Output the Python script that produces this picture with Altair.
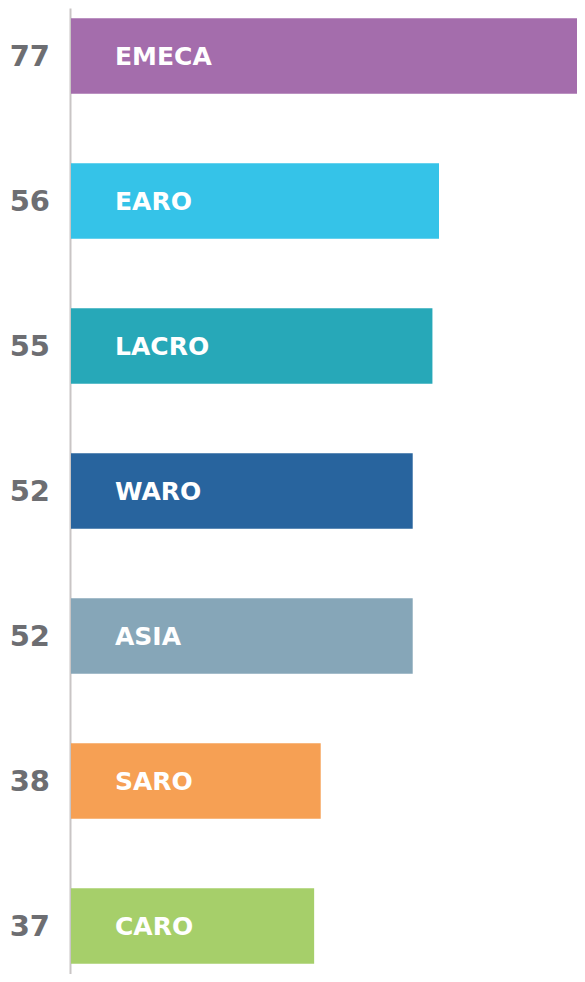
import altair as alt
import pandas as pd

regions = ["EMECA", "EARO", "LACRO", "WARO", "ASIA", "SARO", "CARO"]
values = [77, 56, 55, 52, 52, 38, 37]
colors = ["#a46dac", "#35c3e8", "#27a8b8", "#28649e", "#86a6b8", "#f6a054", "#a6cf6a"]

df = pd.DataFrame({"region": regions, "value": values})

y = alt.Y("region:N", sort=regions,
          scale=alt.Scale(paddingInner=0.478, paddingOuter=0.07),
          axis=alt.Axis(labels=False, ticks=False, title=None, domain=True,
                        domainColor="#c9c5c5", domainWidth=2, offset=1, grid=False))
x = alt.X("value:Q", scale=alt.Scale(domain=[0, 77], nice=False, zero=True), axis=None)

bars = alt.Chart(df).mark_bar().encode(
    x=x, y=y,
    color=alt.Color("region:N", scale=alt.Scale(domain=regions, range=colors), legend=None),
)

nums = alt.Chart(df).mark_text(
    align="right", baseline="middle", font="DejaVu Sans", fontWeight="bold",
    fontSize=29, color="#6d6e72", dy=1
).encode(x=alt.value(-21), y=alt.Y("region:N", sort=regions), text="value:Q")

names = alt.Chart(df).mark_text(
    align="left", baseline="middle", font="DejaVu Sans", fontWeight="bold",
    fontSize=25, color="white", dy=1
).encode(x=alt.value(44), y=alt.Y("region:N", sort=regions), text="region:N")

chart = alt.layer(bars, nums, names).properties(
    width=506, height=966,
    autosize=alt.AutoSizeParams(type="none"),
    padding={"left": 63, "top": 0, "right": 0, "bottom": 0},
).configure_view(stroke=None)

chart.save("out.html", embed_options={"renderer": "svg", "actions": False})
